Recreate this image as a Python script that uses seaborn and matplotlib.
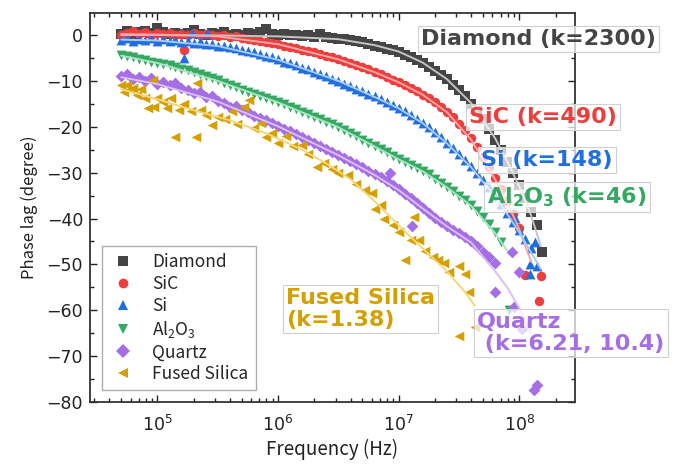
import numpy as np
import pandas as pd
import matplotlib
matplotlib.use("Agg")
import matplotlib.pyplot as plt
from matplotlib.lines import Line2D
from matplotlib.ticker import LogLocator, MultipleLocator, NullFormatter
import seaborn as sns

# ---------------- data ----------------
freq_grid_hz = [5.01e4, 5.62e4, 6.31e4, 7.08e4, 7.94e4, 8.91e4,
                1.00e5, 1.12e5, 1.26e5, 1.41e5, 1.58e5, 1.78e5, 2.00e5, 2.24e5, 2.51e5, 2.82e5,
                3.16e5, 3.55e5, 3.98e5, 4.47e5, 5.01e5, 5.62e5, 6.31e5, 7.08e5, 7.94e5, 8.91e5,
                1.00e6, 1.12e6, 1.26e6, 1.41e6, 1.58e6, 1.78e6, 2.00e6, 2.24e6, 2.51e6, 2.82e6,
                3.16e6, 3.55e6, 3.98e6, 4.47e6, 5.01e6, 5.62e6, 6.31e6, 7.08e6, 7.94e6, 8.91e6,
                1.00e7, 1.12e7, 1.26e7, 1.41e7, 1.58e7, 1.78e7, 2.00e7, 2.24e7, 2.51e7, 2.82e7,
                3.16e7, 3.55e7, 3.98e7, 4.47e7, 5.01e7, 5.62e7, 6.31e7, 7.08e7, 7.94e7, 8.91e7,
                1.00e8, 1.12e8, 1.26e8, 1.41e8]

diamond_phase = [0.3, 0.8, 0.2, 0.6, 0.9, 0.4,
                 1.5, 0.6, 0.3, 0.5, 0.2, 0.4, 1.0, 0.3, 0.1, 0.4, 0.2, 0.6, 0.0, 0.3, 0.1, 0.5, 0.2, 0.6, 1.3, 0.2,
                 0.0, 0.3, -0.1, 0.1, -0.3, -0.1, -0.4, 0.2, -0.5, -0.6, -0.8, -0.9, -1.1, -1.2, -1.6, -1.9, -2.3, -2.6, -3.0, -3.3,
                 -3.8, -4.3, -4.9, -5.4, -6.2, -6.9, -7.8, -8.7, -9.6, -10.8, -12.0, -13.4, -15.0, -16.5, -18.4, -20.5, -22.8, -25.0, -27.6, -30.0,
                 -32.8, -35.5, -38.6, -41.5]
sic_phase = [0.0, 0.5, 0.8, 0.2, 0.6, 0.1,
             0.4, 0.2, 0.5, 0.0, 0.3, 0.1, 0.4, -0.1, 0.2, 0.0, -0.2, 0.1, -0.4, -0.3, -0.6, -0.8, -1.0, -1.2, -1.5, -1.8,
             -2.0, -2.4, -2.6, -2.9, -3.2, -3.5, -3.8, -4.2, -4.6, -4.9, -5.3, -5.7, -6.1, -6.6, -7.0, -7.5, -8.0, -8.6, -9.1, -9.7,
             -10.2, -10.9, -11.6, -12.3, -13.0, -13.8, -14.7, -15.6, -16.7, -17.9, -19.3, -20.8, -22.5, -24.5, -26.6, -28.8, -31.2, -33.6, -36.2, -39.0,
             -42.0]
si_phase = [-1.0, -0.6, -1.3, -0.8, -1.1, -0.7,
            -1.2, -0.9, -1.4, -1.1, -1.5, -1.3, -1.7, -1.6, -1.9, -2.0, -2.3, -2.4, -2.6, -2.9, -3.2, -3.4, -3.8, -4.1, -4.5, -4.9,
            -5.3, -5.8, -6.2, -6.6, -7.1, -7.5, -8.0, -8.5, -9.0, -9.5, -10.0, -10.6, -11.2, -11.7, -12.3, -12.8, -13.4, -14.0, -14.6, -15.2,
            -15.9, -16.6, -17.4, -18.2, -19.1, -20.1, -21.2, -22.3, -23.5, -24.6, -25.9, -27.2, -28.6, -30.0, -31.6, -33.2, -35.0, -36.9, -38.8, -40.7,
            -42.5, -44.5, -46.5]
al2o3_phase = [-4.3, -4.5, -4.9, -5.2, -5.5, -5.8,
               -6.0, -6.3, -6.6, -7.0, -7.3, -7.7, -8.0, -8.4, -8.9, -9.3, -9.9, -10.4, -10.9, -11.4, -11.9, -12.4, -12.9, -13.4, -13.8, -14.2,
               -14.6, -15.1, -15.6, -16.1, -16.7, -17.2, -17.8, -18.3, -18.9, -19.4, -20.0, -20.7, -21.4, -22.1, -22.8, -23.5, -24.2, -24.9, -25.6, -26.3,
               -27.0, -27.6, -28.3, -28.9, -29.6, -30.4, -31.3, -32.2, -33.1, -34.0, -35.0, -36.0, -37.1, -38.3, -39.7, -41.2, -43.0, -45.2]
quartz_phase = [-9.0, -8.5, -9.6, -9.2, -10.0, -9.4,
                -10.6, -10.2, -11.0, -10.5, -11.6, -12.0, -12.6, -12.4, -13.5, -13.2, -14.4, -14.8, -15.6, -15.4, -16.4, -16.8, -17.6, -18.0, -18.6, -19.2,
                -19.8, -20.4, -21.0, -21.6, -22.2, -22.8, -23.5, -24.1, -24.8, -25.4, -26.1, -26.8, -27.4, -28.1, -28.8, -29.6, -30.3, -31.0, -31.8, -32.7,
                -33.6, -34.6, -35.6, -36.7, -37.8, -38.8, -39.8, -40.8, -41.6, -42.4, -43.2, -44.0, -45.0, -46.0, -47.2, -48.4, -49.6]

# scattered extra points
diamond_extra_freq = [1.55e8]
diamond_extra_phase = [-47.2]
sic_extra_freq = [1.66e5, 1.12e8, 1.45e8, 1.52e8]
sic_extra_phase = [-3.3, -52.4, -58.0, -52.6]
si_extra_freq = [1.95e5, 2.6e5, 1.66e5, 2.3e5, 1.23e8, 1.23e8, 1.41e8, 1.35e8, 9.3e7]
si_extra_phase = [0.4, 0.4, -5.0, -1.8, -50.0, -52.0, -50.4, -45.2, -39.8]
al2o3_extra_freq = [8.3e7]
al2o3_extra_phase = [-60.0]
quartz_extra_freq = [8.5e6, 1.29e7, 6.31e7, 8.7e7, 1.00e8, 9.1e7, 1.05e8, 1.32e8, 1.41e8]
quartz_extra_phase = [-30.0, -41.7, -56.0, -47.4, -51.6, -59.3, -64.0, -77.4, -76.4]

fused_freq = [5.01e4, 5.25e4, 5.62e4, 6.03e4, 6.31e4, 6.76e4, 7.24e4, 7.94e4, 8.32e4, 9.12e4, 9.33e4,
              1.00e5, 1.12e5, 1.20e5, 1.29e5, 1.41e5, 1.51e5, 1.66e5, 1.91e5, 2.09e5, 2.14e5, 2.29e5,
              2.51e5, 2.82e5, 3.16e5, 3.63e5, 4.17e5, 4.57e5, 5.25e5, 5.75e5, 6.31e5, 7.24e5, 7.94e5, 8.91e5,
              1.00e6, 1.17e6, 1.32e6, 1.58e6, 1.78e6, 2.09e6, 2.40e6, 2.82e6, 3.16e6, 3.80e6, 4.47e6, 5.25e6,
              6.03e6, 6.31e6, 7.08e6, 7.59e6, 8.91e6, 1.00e7, 1.12e7, 1.26e7, 1.35e7, 1.48e7, 1.66e7, 1.91e7,
              2.14e7, 2.40e7, 2.63e7, 3.16e7, 3.55e7, 3.80e7, 3.16e7, 4.27e7]
fused_phase = [-11.0, -12.5, -10.9, -12.0, -11.5, -13.0, -11.8, -13.7, -16.0, -9.8, -15.6,
               -13.8, -14.5, -15.9, -13.7, -22.2, -16.3, -15.0, -16.6, -22.2, -10.4, -16.3,
               -17.4, -19.6, -17.8, -18.4, -16.5, -19.5, -15.6, -14.1, -20.3, -19.1, -22.2, -21.3,
               -23.5, -22.0, -24.3, -24.0, -26.0, -28.7, -28.0, -29.3, -30.0, -30.5, -32.5, -33.7,
               -34.5, -38.0, -37.0, -40.0, -41.5, -43.0, -49.0, -44.6, -39.6, -44.6, -47.0, -48.3,
               -49.0, -49.6, -51.7, -50.4, -52.0, -56.0, -65.7, -63.7]

# model fit curves
fit_grid_hz = [5.01e4, 1.0e5, 3.16e5, 1.0e6, 3.16e6, 6.31e6, 1.0e7, 1.58e7, 2.51e7, 3.98e7,
               6.31e7, 7.94e7, 1.0e8, 1.26e8, 1.51e8]
diamond_fit = [0.0, 0.0, -0.1, -0.3, -0.9, -2.2, -3.6, -6.0, -9.6, -14.8, -22.5, -27.5, -33.0, -39.5, -46.0]
sic_fit = [0.2, 0.1, -0.3, -2.0, -5.3, -8.1, -10.3, -13.0, -16.8, -22.8, -31.5, -36.5, -42.3, -49.5]
si_fit = [-1.0, -1.2, -2.4, -5.4, -10.0, -13.5, -16.0, -19.2, -23.6, -28.8, -35.2, -39.0, -43.0, -47.5, -51.0]
al2o3_fit = [-4.5, -6.1, -10.0, -14.7, -20.1, -24.3, -27.1, -29.7, -33.2, -37.2, -43.2, -47.0]
quartz_fit = [-9.2, -10.7, -14.5, -19.9, -26.2, -30.5, -33.8, -37.8, -41.7, -45.2, -51.5, -55.0, -59.5, -65.0]
fused_fit_freq = [5.01e4, 1.0e5, 2.0e5, 3.98e5, 7.94e5, 1.58e6, 2.51e6, 3.98e6, 6.31e6, 1.0e7,
                  1.58e7, 2.51e7, 3.55e7, 4.27e7]
fused_fit = [-11.8, -14.0, -16.4, -18.6, -21.4, -25.0, -28.0, -31.4, -36.2, -41.5, -46.5, -51.5, -56.0, -59.0]

materials = ["Diamond", "SiC", "Si", "Al$_2$O$_3$", "Quartz", "Fused Silica"]
annotations = ["Diamond (k=2300)", "SiC (k=490)", "Si (k=148)", "Al$_2$O$_3$ (k=46)",
               "Quartz\n (k=6.21, 10.4)", "Fused Silica\n(k=1.38)"]

# ---------------- style ----------------
colors = {"Diamond": "#454545", "SiC": "#ee3d3d", "Si": "#1f6fe0",
          "Al$_2$O$_3$": "#35a862", "Quartz": "#a66ee4", "Fused Silica": "#d49f00"}
fit_colors = {"Diamond": "#c4c4c4", "SiC": "#f6a6a6", "Si": "#a8c9f2",
              "Al$_2$O$_3$": "#a9e5c4", "Quartz": "#d9c0f5", "Fused Silica": "#f5d67a"}
markers = {"Diamond": "s", "SiC": "o", "Si": "^", "Al$_2$O$_3$": "v", "Quartz": "D", "Fused Silica": "<"}
sizes = {"Diamond": 42, "SiC": 46, "Si": 50, "Al$_2$O$_3$": 50, "Quartz": 36, "Fused Silica": 48}

sns.set_theme(style="ticks")
plt.rcParams["font.family"] = ["DejaVu Sans"]
plt.rcParams["mathtext.default"] = "regular"
label_font = ["Noto Sans CJK JP", "DejaVu Sans"]

fig = plt.figure(figsize=(6.75, 4.65), dpi=100)
ax = fig.add_axes([90 / 675, 1 - 402 / 465, 485 / 675, 389 / 465])

series = [
    ("Diamond", freq_grid_hz[:len(diamond_phase)] + diamond_extra_freq, diamond_phase + diamond_extra_phase),
    ("SiC", freq_grid_hz[:len(sic_phase)] + sic_extra_freq, sic_phase + sic_extra_phase),
    ("Si", freq_grid_hz[:len(si_phase)] + si_extra_freq, si_phase + si_extra_phase),
    ("Al$_2$O$_3$", freq_grid_hz[:len(al2o3_phase)] + al2o3_extra_freq, al2o3_phase + al2o3_extra_phase),
    ("Quartz", freq_grid_hz[:len(quartz_phase)] + quartz_extra_freq, quartz_phase + quartz_extra_phase),
    ("Fused Silica", fused_freq, fused_phase),
]
for name, f, p in series:
    df = pd.DataFrame({"freq": f, "phase": p})
    sns.scatterplot(data=df, x="freq", y="phase", ax=ax, color=colors[name],
                    marker=markers[name], s=sizes[name], linewidth=0, zorder=3, legend=False)

fits = [
    ("Diamond", fit_grid_hz[:len(diamond_fit)], diamond_fit),
    ("SiC", fit_grid_hz[:len(sic_fit)], sic_fit),
    ("Si", fit_grid_hz[:len(si_fit)], si_fit),
    ("Al$_2$O$_3$", fit_grid_hz[:len(al2o3_fit)], al2o3_fit),
    ("Quartz", fit_grid_hz[:len(quartz_fit)], quartz_fit),
    ("Fused Silica", fused_fit_freq, fused_fit),
]
for name, f, p in fits:
    df = pd.DataFrame({"freq": f, "phase": p})
    sns.lineplot(data=df, x="freq", y="phase", ax=ax, color=fit_colors[name],
                 lw=1.4, sort=False, estimator=None, zorder=4, legend=False)

ax.set_xscale("log")
ax.set_xlim(2.76e4, 2.9e8)
ax.set_ylim(-80, 4.8)
ax.yaxis.set_major_locator(MultipleLocator(10))
ax.yaxis.set_minor_locator(MultipleLocator(5))
ax.xaxis.set_major_locator(LogLocator(base=10, numticks=10))
ax.xaxis.set_minor_locator(LogLocator(base=10, subs=np.arange(2, 10), numticks=20))
ax.xaxis.set_minor_formatter(NullFormatter())
ax.tick_params(which="both", direction="in", top=True, right=True, colors="#222222",
               labelsize=12.5, width=1.0)
ax.tick_params(which="major", length=5)
ax.tick_params(which="minor", length=2.8)
ax.tick_params(axis="x", which="major", pad=9)
ax.tick_params(axis="y", which="major", pad=5)
for sp in ax.spines.values():
    sp.set_linewidth(1.3)
    sp.set_color("#333333")

ax.set_xlabel("Frequency (Hz)", family=label_font, fontsize=13.5, color="#222222", labelpad=3)
ax.set_ylabel("Phase lag (degree)", family=label_font, fontsize=12, color="#222222", labelpad=6)

handles = [Line2D([], [], ls="none", marker=markers[m], color=colors[m], markersize=7,
                  markeredgewidth=0) for m in materials]
leg = ax.legend(handles, materials, loc="lower left", bbox_to_anchor=(0.025, 0.03),
                borderaxespad=0, frameon=True, fancybox=False, edgecolor="#999999",
                labelspacing=0.22, handletextpad=0.9, handlelength=1.6,
                borderpad=0.4, prop={"family": label_font, "size": 12.5})
leg.get_frame().set_linewidth(1.0)

# boxed annotations (left edge, vertical centre in figure pixels)
ann_pos = {"Diamond": (421, 39), "SiC": (469, 117), "Si": (481, 160), "Al$_2$O$_3$": (487, 197),
           "Quartz": (477, 333), "Fused Silica": (286, 309)}
for name, txt in zip(materials, annotations):
    x, y = ann_pos[name]
    fig.text(x / 675, 1 - y / 465, txt, ha="left", va="center", multialignment="left",
             family="DejaVu Sans", fontweight="bold", fontsize=16, color=colors[name],
             linespacing=1.1,
             bbox=dict(boxstyle="square,pad=0.15", fc=(1, 1, 1, 0.72), ec="#d0d0d0", lw=0.8),
             zorder=10)

fig.savefig("out.png", dpi=100)
